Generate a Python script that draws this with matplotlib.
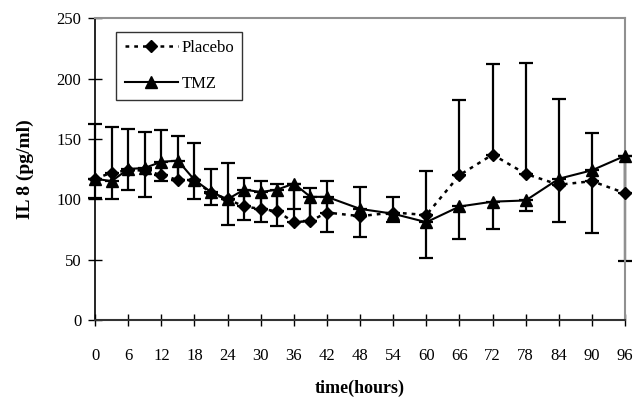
import numpy as np
import matplotlib
matplotlib.use("Agg")
import matplotlib.pyplot as plt

plt.rcParams['font.family'] = ['Liberation Serif', 'DejaVu Serif']

hours = [0, 3, 6, 9, 12, 15, 18, 21, 24, 27, 30, 33, 36, 39, 42, 48, 54, 60, 66, 72, 78, 84, 90, 96]
placebo = [117, 122, 124, 124, 120, 116, 116, 105, 100, 94, 92, 90, 81, 82, 89, 86, 89, 87, 120, 137, 121, 112, 115, 105]
tmz = [117, 115, 125, 126, 131, 132, 116, 106, 100, 108, 106, 108, 113, 102, 102, 92, 88, 81, 94, 98, 99, 117, 124, 136]
# error bars: placebo drawn upward, TMZ drawn downward (as in the original)
placebo_err = [45, 38, 34, 32, 37, 36, 31, 20, 30, 24, 23, 23, 32, 27, 26, 24, 13, 36, 62, 75, 92, 71, 40, 31]
tmz_err = [16, 15, 17, 24, 16, 16, 16, 11, 21, 25, 25, 30, 21, 20, 29, 23, 7, 30, 27, 23, 9, 36, 52, 87]

xticks = np.arange(0, 97, 6)
yticks = np.arange(0, 251, 50)

fig = plt.figure(figsize=(6.34, 4.04), dpi=100)
ax = fig.add_axes([0.150, 0.208, 0.836, 0.747])

zeros = np.zeros(len(hours))
eb1 = ax.errorbar(hours, placebo, yerr=[zeros, placebo_err], fmt='none', ecolor='black',
                  elinewidth=1.6, capsize=5, capthick=1.6, zorder=2)
eb2 = ax.errorbar(hours, tmz, yerr=[tmz_err, zeros], fmt='none', ecolor='black',
                  elinewidth=1.6, capsize=5, capthick=1.6, zorder=2)
for eb in (eb1, eb2):
    for art in eb.get_children():
        art.set_clip_on(False)

ax.plot(hours, placebo, color='black', linestyle=(0, (1.5, 2)), linewidth=1.8,
        marker='D', markersize=6, label='Placebo', zorder=3, clip_on=False)
ax.plot(hours, tmz, color='black', linestyle='-', linewidth=1.5,
        marker='^', markersize=8, label='TMZ', zorder=4, clip_on=False)

ax.set_xlim(0, 96)
ax.set_ylim(0, 250)
ax.set_xticks(xticks)
ax.set_yticks(yticks)
ax.tick_params(axis='x', direction='inout', length=9, width=1, pad=16, labelsize=12)
ax.tick_params(axis='y', direction='inout', length=10, width=1, pad=5, labelsize=12)

ax.spines['left'].set_color('black')
ax.spines['bottom'].set_color('#333333')
ax.spines['bottom'].set_linewidth(1.5)
ax.spines['left'].set_linewidth(1.2)
ax.spines['top'].set_color('#909090')
ax.spines['right'].set_color('#909090')
ax.spines['top'].set_linewidth(1.5)
ax.spines['right'].set_linewidth(1.5)

ax.set_xlabel('time(hours)', fontsize=13, fontweight='bold', labelpad=11)
ax.set_ylabel('IL 8 (pg/ml)', fontsize=14, fontweight='bold', labelpad=16)

leg = ax.legend(loc='upper left', bbox_to_anchor=(0.04, 0.955), borderaxespad=0,
                fontsize=12, frameon=True, fancybox=False, edgecolor='black',
                labelspacing=1.2, handlelength=3.2, handletextpad=0.2, borderpad=0.5)
leg.get_frame().set_linewidth(1.0)

fig.savefig('out.png', dpi=100)
